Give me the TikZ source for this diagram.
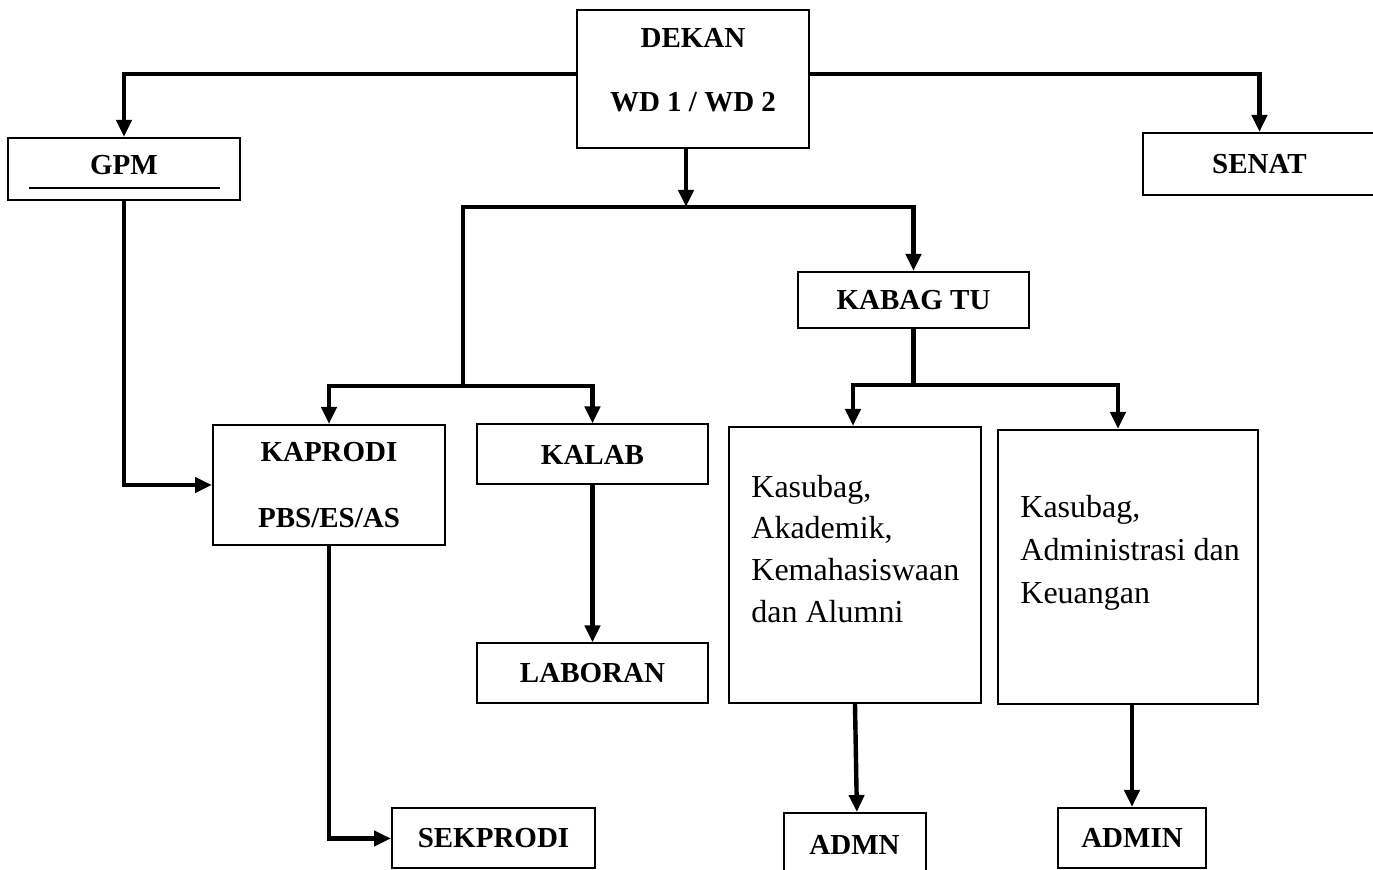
\documentclass[tikz,border=0pt]{standalone}
\usepackage{fontspec}
\setmainfont{Liberation Serif}
\usetikzlibrary{arrows.meta}
\begin{document}
\begin{tikzpicture}[x=0.5pt,y=-0.5pt,
  wh/.style 2 args={minimum width={#1*0.5pt}, minimum height={#2*0.5pt}},
  box/.style={draw, line width=1pt, inner sep=0pt, font=\fontsize{14.5}{17.4}\selectfont\bfseries},
  lbl/.style={inner sep=0pt, font=\fontsize{14.5}{17.4}\selectfont\bfseries},
  plain/.style={inner sep=0pt, align=left, font=\fontsize{16}{20.8}\selectfont},
  conn/.style={line width=2.2pt},
  arr/.style={conn, -{Triangle[length=8.5pt,width=7.5pt]}}]
\useasboundingbox (0,0) rectangle (1373,870);

% boxes
\node[box, wh={232}{138}, label={[name=dekantext, lbl, align=center, yshift=4.25pt]center:DEKAN\\[14.5pt]WD 1 / WD 2}] (dekan) at (693,79) {};
\node[box, wh={232}{62}, text depth=4pt] (gpm) at (124,169) {GPM};
\draw[line width=0.8pt] ([xshift=11pt,yshift=-9.5pt]gpm.west) -- ([xshift=-10.5pt,yshift=-9.5pt]gpm.east);
\node[box, wh={233}{62}] (senat) at (1259.5,164) {SENAT};
\node[box, wh={231}{56}] (kabag) at (913.5,300) {KABAG TU};
\node[box, wh={232}{120}, align=center] (kaprodi) at (329,485) {KAPRODI\\[15.5pt]PBS/ES/AS};
\node[box, wh={231}{60}] (kalab) at (592.5,454.5) {KALAB};
\node[box, wh={231}{60}] (laboran) at (592.5,673.5) {LABORAN};
\node[box, wh={203}{60}] (sekprodi) at (493.5,838.5) {SEKPRODI};
\node[box, wh={252}{276}] (k1) at (855,565) {};
\node[plain, anchor=north west] (k1text) at (751,474.8) {Kasubag,\\Akademik,\\Kemahasiswaan\\dan Alumni};
\node[box, wh={260}{274}] (k2) at (1128,567) {};
\node[plain, anchor=north west, font=\fontsize{16}{21.3}\selectfont] (k2text) at (1020,495.4) {Kasubag,\\Administrasi dan\\Keuangan};
\node[box, wh={142}{64}] (admn) at (854.5,845) {ADMN};
\node[box, wh={148}{60}] (admin) at (1132,838) {ADMIN};

% junctions
\coordinate (j1) at (686,207);
\coordinate (jl) at (463,207);
\coordinate (jr) at (913.5,207);
\coordinate (j2) at (463,386);
\coordinate (j3) at (913.5,385);

% connectors
\draw[arr] ([yshift=2.5pt]dekan.west) -| (gpm.north);
\draw[arr] ([yshift=2.5pt]dekan.east) -| (senat.north);
\draw[arr] (dekan.south -| j1) -- (j1);
\draw[arr] (j2) -- (jl) -- (jr) -- (kabag.north);
\draw[arr] (j2) -| (kaprodi.north);
\draw[arr] (j2) -| (kalab.north);
\draw[arr] (gpm.south) |- (kaprodi.west);
\draw[arr] (kaprodi.south) |- (sekprodi.west);
\draw[arr] (kalab.south) -- (laboran.north);
\draw[conn] (kabag.south) -- (j3);
\draw[arr] (j3) -| ([xshift=-1pt]k1.north);
\draw[arr] (j3) -| ([xshift=-5pt]k2.north);
\draw[arr] (k1.south) -- ([xshift=1.2pt]admn.north);
\draw[arr] (k2.south -| admin.north) -- (admin.north);
\end{tikzpicture}
\end{document}
